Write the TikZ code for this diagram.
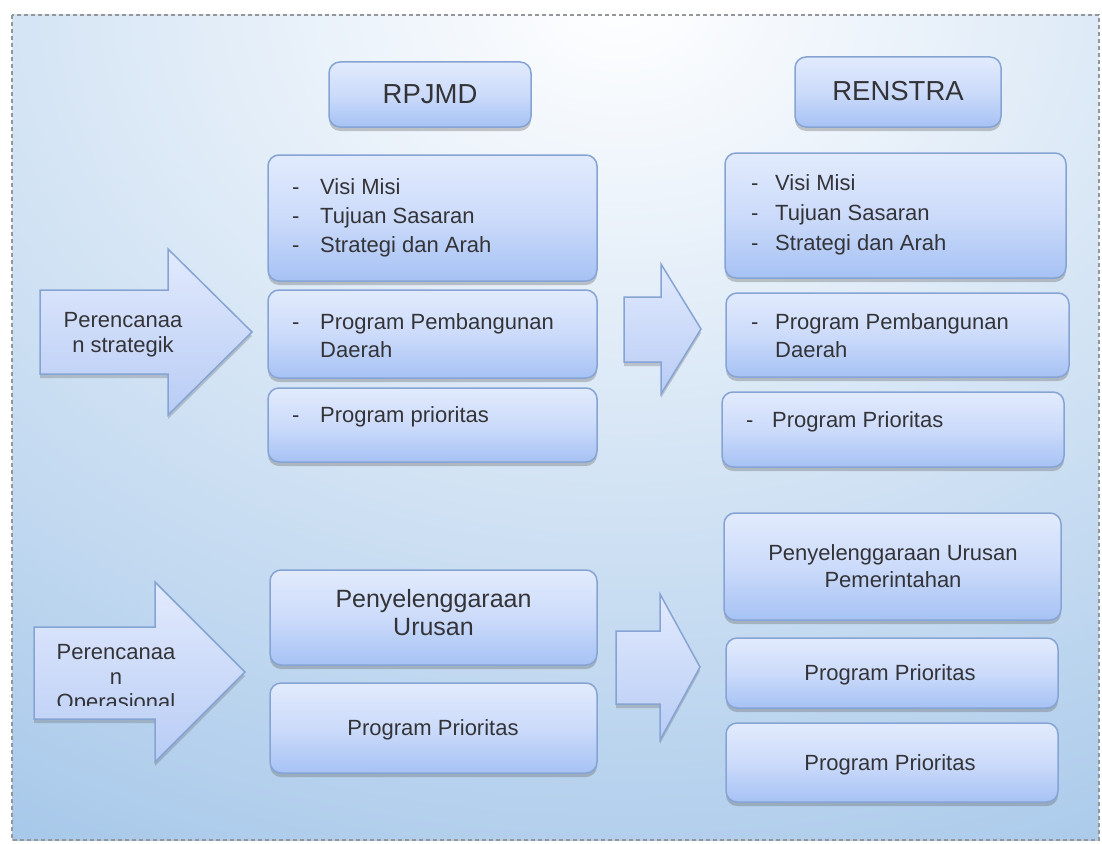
\documentclass[tikz,border=0pt]{standalone}
\usepackage{fontspec}
\setmainfont{Liberation Sans}
\usetikzlibrary{shadows}

\definecolor{bgblue}{RGB}{164,198,233}
\definecolor{boxtop}{RGB}{226,235,253}
\definecolor{boxmid}{RGB}{204,219,250}
\definecolor{boxbot}{RGB}{166,194,244}
\definecolor{boxline}{RGB}{134,164,211}
\definecolor{arrtop}{RGB}{226,234,253}
\definecolor{arrbot}{RGB}{184,204,245}
\definecolor{inktext}{RGB}{52,52,56}
\definecolor{framegray}{RGB}{148,150,154}

\begin{document}
\begin{tikzpicture}[x=1pt,y=-1pt,
  panel/.style={draw=boxline, line width=1.5pt, rounded corners=11pt, inner sep=0pt,
    top color=boxtop, bottom color=boxbot, middle color=boxmid,
    drop shadow={shadow xshift=0pt, shadow yshift=-4pt, opacity=.35, fill=black!60}},
  bigarrow/.style={draw=boxline, line width=1.5pt, line join=miter,
    top color=arrtop, bottom color=arrbot,
    drop shadow={shadow xshift=0pt, shadow yshift=-4pt, opacity=.3, fill=black!60}},
  lbl/.style={font=\fontsize{22}{29}\selectfont, text=inktext, inner sep=0pt},
  biglbl/.style={font=\fontsize{25}{29}\selectfont, text=inktext, inner sep=0pt},
  headlbl/.style={font=\fontsize{27.5}{32}\selectfont, text=inktext, inner sep=0pt}
]
\useasboundingbox (0,0) rectangle (1102,843);

% background: blue field lit softly from the top centre
\begin{scope}
  \clip (12,15) rectangle (1099,840);
  \fill[bgblue] (12,15) rectangle (1099,840);
  \shade[inner color=white, outer color=bgblue] (620,0) ellipse [x radius=1300, y radius=1000];
\end{scope}
\draw[framegray, line width=1.6pt, dash pattern=on 4pt off 3pt] (12,15) rectangle (1099,840);

% big arrows
\path[bigarrow] (40,290) -- (168,290) -- (168,249) -- (252,332) -- (168,415) -- (168,374) -- (40,374) -- cycle;
\path[bigarrow] (34,627) -- (155,627) -- (155,582) -- (245,672) -- (155,762) -- (155,719) -- (34,719) -- cycle;
\path[bigarrow] (624,297) -- (661,297) -- (661,264) -- (701,329) -- (661,394) -- (661,362) -- (624,362) -- cycle;
\path[bigarrow] (616,631) -- (660,631) -- (660,594) -- (700,667) -- (660,740) -- (660,704) -- (616,704) -- cycle;

\node[lbl, anchor=base] (ps1) at (123,327) {Perencanaa};
\node[lbl, anchor=base] (ps2) at (123,352) {n strategik};
\begin{scope}
  % the third line runs past the bottom of the arrow's body
  \clip (20,627) rectangle (250,705);
  \node[lbl, anchor=base] (po1) at (116,659) {Perencanaa};
  \node[lbl, anchor=base] (po2) at (116,684) {n};
  \node[lbl, anchor=base] (po3) at (116,709) {Operasional};
\end{scope}

% headers
\node[panel, minimum width=202pt, minimum height=65pt] (hrp) at (430,94.5) {};
\node[headlbl, anchor=base] (hrpt) at (430,103) {RPJMD};
\node[panel, minimum width=206pt, minimum height=70pt] (hre) at (898,92) {};
\node[headlbl, anchor=base] (hret) at (898,100) {RENSTRA};

% left column
\node[panel, minimum width=329pt, minimum height=126pt] (la) at (432.5,218) {};
\node[panel, minimum width=329pt, minimum height=88pt] (lb) at (432.5,334) {};
\node[panel, minimum width=329pt, minimum height=74pt] (lc) at (432.5,425) {};
\node[panel, minimum width=327pt, minimum height=95pt] (ld) at (433.5,617.5) {};
\node[panel, minimum width=327pt, minimum height=90pt] (le) at (433.5,728) {};

% right column
\node[panel, minimum width=341pt, minimum height=125pt] (ra) at (895.5,215.5) {};
\node[panel, minimum width=343pt, minimum height=84pt] (rb) at (897.5,335) {};
\node[panel, minimum width=342pt, minimum height=75pt] (rc) at (893,429.5) {};
\node[panel, minimum width=337pt, minimum height=107pt] (rd) at (892.5,566.5) {};
\node[panel, minimum width=332pt, minimum height=70pt] (re) at (892,673) {};
\node[panel, minimum width=332pt, minimum height=79pt] (rf) at (892,762.5) {};

% left column texts
\node[lbl, anchor=base west] (la1d) at (292,194) {-};
\node[lbl, anchor=base west] (la1) at (320,194) {Visi Misi};
\node[lbl, anchor=base west] (la2d) at (292,223) {-};
\node[lbl, anchor=base west] (la2) at (320,223) {Tujuan Sasaran};
\node[lbl, anchor=base west] (la3d) at (292,252) {-};
\node[lbl, anchor=base west] (la3) at (320,252) {Strategi dan Arah};
\node[lbl, anchor=base west] (lb1d) at (292,329) {-};
\node[lbl, anchor=base west] (lb1) at (320,329) {Program Pembangunan};
\node[lbl, anchor=base west] (lb2) at (320,357) {Daerah};
\node[lbl, anchor=base west] (lc1d) at (292,422) {-};
\node[lbl, anchor=base west] (lc1) at (320,422) {Program prioritas};
\node[biglbl, anchor=base] (ld1) at (433.5,607) {Penyelenggaraan};
\node[biglbl, anchor=base] (ld2) at (433.5,635) {Urusan};
\node[lbl, anchor=base] (le1) at (433,735) {Program Prioritas};

% right column texts
\node[lbl, anchor=base west] (ra1d) at (751,190) {-};
\node[lbl, anchor=base west] (ra1) at (775,190) {Visi Misi};
\node[lbl, anchor=base west] (ra2d) at (751,220) {-};
\node[lbl, anchor=base west] (ra2) at (775,220) {Tujuan Sasaran};
\node[lbl, anchor=base west] (ra3d) at (751,250) {-};
\node[lbl, anchor=base west] (ra3) at (775,250) {Strategi dan Arah};
\node[lbl, anchor=base west] (rb1d) at (751,329) {-};
\node[lbl, anchor=base west] (rb1) at (775,329) {Program Pembangunan};
\node[lbl, anchor=base west] (rb2) at (775,357) {Daerah};
\node[lbl, anchor=base west] (rc1d) at (746,427) {-};
\node[lbl, anchor=base west] (rc1) at (772,427) {Program Prioritas};
\node[lbl, anchor=base] (rd1) at (893,560) {Penyelenggaraan Urusan};
\node[lbl, anchor=base] (rd2) at (893,587) {Pemerintahan};
\node[lbl, anchor=base] (re1) at (890,680) {Program Prioritas};
\node[lbl, anchor=base] (rf1) at (890,770) {Program Prioritas};
\end{tikzpicture}
\end{document}
